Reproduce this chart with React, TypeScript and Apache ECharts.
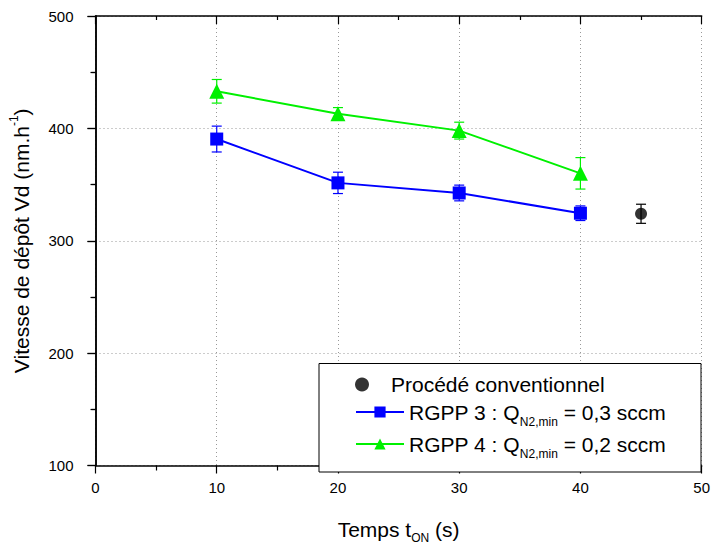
import React, { useEffect, useRef } from "react";
import * as echarts from "echarts";

const timesRGPP = [10, 20, 30, 40];
const rgpp3Values = [390.5, 351.5, 342.5, 324.5];
const rgpp3Errors = [11.5, 9.5, 7, 6.5];
const rgpp4Values = [433, 413, 398, 360];
const rgpp4Errors = [10.5, 5.5, 7.5, 14];
const convTime = [45];
const convValue = [324];
const convError = [8.5];

const xTicks = [0, 10, 20, 30, 40, 50];
const yTicks = [100, 200, 300, 400, 500];

const FONT = "Liberation Sans, Arial, sans-serif";
const BLUE = "#0000ff";
const GREEN = "#00f000";

function errorSeries(xs: number[], ys: number[], es: number[], color: string, name: string) {
  return {
    type: "custom",
    name,
    z: 3,
    silent: true,
    data: xs.map((x, i) => [x, ys[i], es[i]]),
    encode: { x: 0, y: 1 },
    renderItem: (params: any, api: any) => {
      const x = api.value(0);
      const y = api.value(1);
      const e = api.value(2);
      const top = api.coord([x, y + e]);
      const bot = api.coord([x, y - e]);
      const w = 5;
      const style = { stroke: color, lineWidth: 1.2 };
      return {
        type: "group",
        children: [
          { type: "line", shape: { x1: top[0], y1: top[1], x2: bot[0], y2: bot[1] }, style },
          { type: "line", shape: { x1: top[0] - w, y1: top[1], x2: top[0] + w, y2: top[1] }, style },
          { type: "line", shape: { x1: bot[0] - w, y1: bot[1], x2: bot[0] + w, y2: bot[1] }, style },
        ],
      };
    },
  };
}

export default function App() {
  const ref = useRef<HTMLDivElement>(null);
  useEffect(() => {
    if (!ref.current) return;
    const chart = echarts.init(ref.current, null, { renderer: "svg" });
    const axisLine = { show: true, lineStyle: { color: "#000", width: 1.5 } };
    const splitLine = { show: true, lineStyle: { color: "#999", type: [1, 3], width: 1 } };
    const tickOut = { show: true, inside: false, length: 8, lineStyle: { color: "#000", width: 1.2 } };
    const minorOut = { show: true, splitNumber: 2, length: 5, lineStyle: { color: "#000", width: 1.2 } };
    const tickIn = { show: true, inside: true, length: 8, lineStyle: { color: "#000", width: 1.2 } };
    const minorIn = { show: true, splitNumber: 2, length: 4, lineStyle: { color: "#000", width: 1.2 } };
    const richLegend = {
      a: { fontSize: 21, fontFamily: FONT, color: "#000", lineHeight: 26 },
      sub: { fontSize: 12, fontFamily: FONT, color: "#000", lineHeight: 12, padding: [20, 0, 0, 0] },
    };
    const legendBase = {
      z: 20,
      orient: "vertical",
      left: 355,
      itemWidth: 48,
      itemHeight: 14,
      itemGap: 6,
      padding: 0,
      textStyle: { fontSize: 21, fontFamily: FONT, color: "#000", rich: richLegend },
      formatter: (name: string) => {
        if (name === "RGPP 3") return "{a|RGPP 3 : Q}{sub|N2,min}{a| = 0,3 sccm}";
        if (name === "RGPP 4") return "{a|RGPP 4 : Q}{sub|N2,min}{a| = 0,2 sccm}";
        return "{a|" + name + "}";
      },
    };
    const option: any = {
      animation: false,
      backgroundColor: "#fff",
      grid: { left: 90, right: 9, top: 16, bottom: 77, containLabel: false },
      xAxis: [
        {
          type: "value",
          min: xTicks[0],
          max: xTicks[xTicks.length - 1],
          interval: 10,
          axisLine,
          axisTick: tickOut,
          minorTick: minorOut,
          axisLabel: { color: "#000", fontSize: 15, fontFamily: FONT, margin: 14 },
          splitLine,
          name: "Temps t{sub|ON} (s)",
          nameLocation: "middle",
          nameGap: 53,
          nameTextStyle: {
            fontSize: 21,
            fontFamily: FONT,
            color: "#000",
            rich: {
              sub: { fontSize: 12, fontFamily: FONT, color: "#000", lineHeight: 12, padding: [18, 0, 0, 0] },
            },
          },
        },
        {
          type: "value",
          position: "top",
          min: xTicks[0],
          max: xTicks[xTicks.length - 1],
          interval: 10,
          axisLine,
          axisTick: tickIn,
          minorTick: minorIn,
          axisLabel: { show: false },
          splitLine: { show: false },
        },
      ],
      yAxis: [
        {
          type: "value",
          min: yTicks[0],
          max: yTicks[yTicks.length - 1],
          interval: 100,
          axisLine,
          axisTick: tickOut,
          minorTick: minorOut,
          axisLabel: { color: "#000", fontSize: 15, fontFamily: FONT, margin: 22 },
          splitLine,
          name: "Vitesse de dépôt Vd (nm.h{sup|-1})",
          nameLocation: "middle",
          nameGap: 64,
          nameTextStyle: {
            fontSize: 21,
            fontFamily: FONT,
            color: "#000",
            rich: {
              sup: { fontSize: 12, fontFamily: FONT, color: "#000", lineHeight: 12, padding: [0, 0, 14, 0] },
            },
          },
        },
        {
          type: "value",
          position: "right",
          min: yTicks[0],
          max: yTicks[yTicks.length - 1],
          interval: 100,
          axisLine,
          axisTick: tickIn,
          minorTick: minorIn,
          axisLabel: { show: false },
          splitLine: { show: false },
        },
      ],
      graphic: [
        {
          type: "rect",
          z: 10,
          shape: { x: 319, y: 363.5, width: 382, height: 108.5 },
          style: { fill: "#fff", stroke: "#000", lineWidth: 1 },
        },
      ],
      legend: [
        { ...legendBase, top: 374, data: ["Procédé conventionnel"] },
        { ...legendBase, top: 396, data: ["RGPP 3"] },
        { ...legendBase, top: 428, data: ["RGPP 4"] },
      ],
      series: [
        errorSeries(timesRGPP, rgpp3Values, rgpp3Errors, BLUE, "err3"),
        errorSeries(timesRGPP, rgpp4Values, rgpp4Errors, GREEN, "err4"),
        errorSeries(convTime, convValue, convError, "#000000", "errc"),
        {
          type: "scatter",
          name: "Procédé conventionnel",
          z: 4,
          data: convTime.map((x, i) => [x, convValue[i]]),
          symbol: "circle",
          symbolSize: 12,
          itemStyle: { color: "#000" },
        },
        {
          type: "line",
          name: "RGPP 3",
          z: 4,
          data: timesRGPP.map((x, i) => [x, rgpp3Values[i]]),
          symbol: "rect",
          symbolSize: 13,
          lineStyle: { color: BLUE, width: 2 },
          itemStyle: { color: BLUE },
        },
        {
          type: "line",
          name: "RGPP 4",
          z: 4,
          data: timesRGPP.map((x, i) => [x, rgpp4Values[i]]),
          symbol: "triangle",
          symbolSize: 15,
          lineStyle: { color: GREEN, width: 2 },
          itemStyle: { color: GREEN },
        },
      ],
    };
    chart.setOption(option);
    return () => chart.dispose();
  }, []);
  return (
    <div
      ref={ref}
      style={{ position: "fixed", left: 0, top: 0, width: 713, height: 549 }}
    />
  );
}
